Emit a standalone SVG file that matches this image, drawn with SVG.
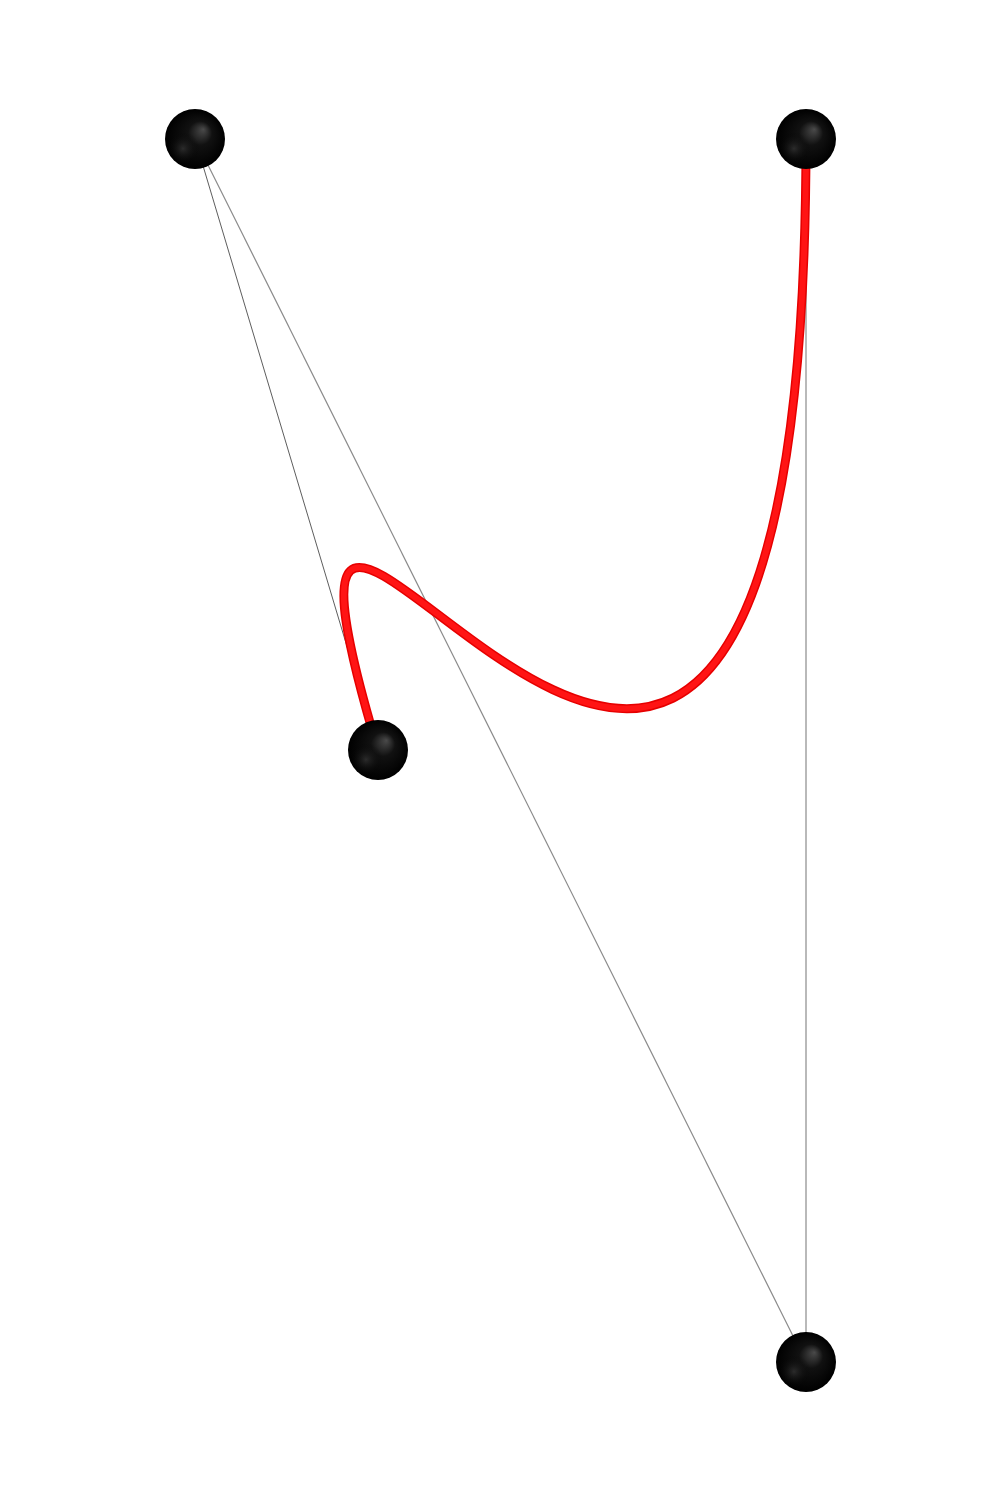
<svg xmlns="http://www.w3.org/2000/svg" width="1001" height="1502" viewBox="0 0 1001 1502">
<style>
.hull{fill:none;stroke:#8a8a8a;stroke-width:1.2}
.hull2{fill:none;stroke:#333;stroke-width:0.8}
.tube-o{fill:none;stroke:#e60000;stroke-width:9;stroke-linecap:butt}
.tube-i{fill:none;stroke:#ff1414;stroke-width:6;stroke-linecap:butt}
.ball{fill:url(#sph)}
</style>
<defs>
<radialGradient id="sph" cx="0.5" cy="0.5" r="0.5" fx="0.64" fy="0.34">
<stop offset="0" stop-color="#4a4a4a"/>
<stop offset="0.4" stop-color="#111"/>
<stop offset="1" stop-color="#000"/>
</radialGradient>
<radialGradient id="sph2" cx="0.3" cy="0.66" r="0.28">
<stop offset="0" stop-color="#3a3a3a" stop-opacity="0.7"/>
<stop offset="1" stop-color="#000" stop-opacity="0"/>
</radialGradient>
</defs>
<g id="connectors">
<line class="hull" x1="806" y1="139" x2="806" y2="1362"/>
<line class="hull" x1="806" y1="1362" x2="195" y2="139"/>
<line class="hull2" x1="195" y1="139" x2="378" y2="750"/>
<path class="tube-o" d="M806,139 C806,1362 195,139 378,750"/>
<path class="tube-i" d="M806,139 C806,1362 195,139 378,750"/>
</g>
<g id="p0"><circle class="ball" cx="806" cy="139" r="30"/><circle cx="806" cy="139" r="30" fill="url(#sph2)"/></g>
<g id="p1"><circle class="ball" cx="806" cy="1362" r="30"/><circle cx="806" cy="1362" r="30" fill="url(#sph2)"/></g>
<g id="p2"><circle class="ball" cx="195" cy="139" r="30"/><circle cx="195" cy="139" r="30" fill="url(#sph2)"/></g>
<g id="p3"><circle class="ball" cx="378" cy="750" r="30"/><circle cx="378" cy="750" r="30" fill="url(#sph2)"/></g>
</svg>
